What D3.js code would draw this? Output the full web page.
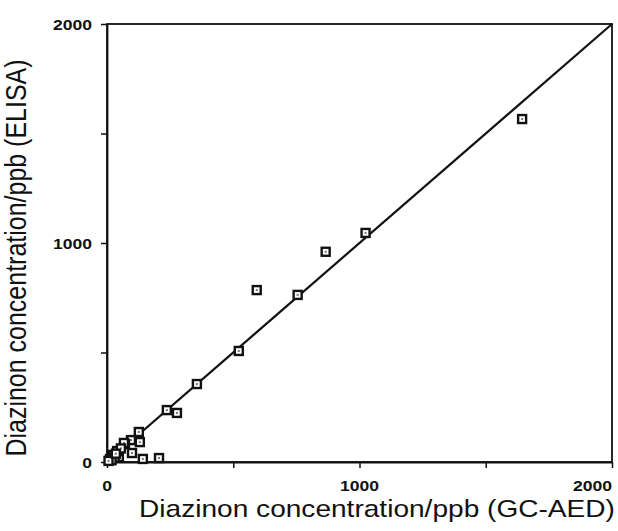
<!DOCTYPE html>
<html>
<head>
<meta charset="utf-8">
<script src="https://cdn.jsdelivr.net/npm/d3@7"></script>
<style>
  body { margin: 0; background: #fff; }
  text { font-family: "Liberation Sans", Arial, sans-serif; fill: #111; }
</style>
</head>
<body>
<svg id="grafico" width="618" height="531"></svg>
<script>
// data: GC-AED (x) vs ELISA (y), ppb
var gcaed = [1644, 1024, 866, 593, 755, 522, 356, 237, 277, 126, 130, 95, 71, 67, 99, 142, 206, 47, 24, 40, 55, 30, 12, 18, 6, 35];
var elisa = [1566, 1046, 960, 785, 763, 507, 356, 237, 224, 137, 91, 100, 82, 87, 41, 14, 18, 23, 32, 50, 62, 20, 14, 8, 5, 38];
var tickVals = [0, 500, 1000, 1500, 2000];
var tickLabels = [0, 1000, 2000];
var xTitle = "Diazinon concentration/ppb (GC-AED)";
var yTitle = "Diazinon concentration/ppb (ELISA)";

var svg = d3.select("svg#grafico");
var plotL = 107, plotR = 612, plotT = 24, plotB = 462;
var sx = 1.17; // the scan is stretched sideways

var x = d3.scaleLinear().domain([0, 2000]).range([plotL, plotR]);
var y = d3.scaleLinear().domain([0, 2000]).range([plotB, plotT]);

// frame
svg.append("rect")
    .attr("x", plotL).attr("y", plotT)
    .attr("width", plotR - plotL).attr("height", plotB - plotT)
    .attr("fill", "none").attr("stroke", "#111").attr("stroke-width", 1.8);

// axes (ticks only, labels drawn below)
var xAxis = svg.append("g")
    .attr("transform", "translate(0," + plotB + ")")
    .call(d3.axisBottom(x).tickValues(tickVals).tickFormat("").tickSize(6).tickSizeOuter(0));
var yAxis = svg.append("g")
    .attr("transform", "translate(" + plotL + ",0)")
    .call(d3.axisLeft(y).tickValues(tickVals).tickFormat("").tickSize(6).tickSizeOuter(0));
[xAxis, yAxis].forEach(function(a) {
  a.select(".domain").attr("stroke", "#111").attr("stroke-width", 1.8);
  a.selectAll(".tick line").attr("stroke", "#111").attr("stroke-width", 1.5);
});

// tick labels
svg.selectAll(".xlab")
  .data(tickLabels)
  .enter().append("text")
    .attr("class", "xlab")
    .attr("transform", function(d) { return "translate(" + x(d) + ",491) scale(" + sx + ",1)"; })
    .attr("text-anchor", function(d) { return d == 2000 ? "end" : "middle"; })
    .style("font-size", "15px")
    .style("font-weight", "bold")
    .text(function(d) { return d; });

svg.selectAll(".ylab")
  .data(tickLabels)
  .enter().append("text")
    .attr("class", "ylab")
    .attr("transform", function(d) { return "translate(92," + (y(d) + 5.5) + ") scale(" + sx + ",1)"; })
    .attr("text-anchor", "end")
    .style("font-size", "15px")
    .style("font-weight", "bold")
    .text(function(d) { return d; });

// axis titles
svg.append("text")
    .attr("transform", "translate(" + 377 + ",517) scale(" + sx + ",1)")
    .attr("text-anchor", "middle")
    .style("font-size", "24px")
    .text(xTitle);

svg.append("text")
    .attr("transform", "translate(26,258) scale(" + sx + ",1) rotate(-90)")
    .attr("text-anchor", "middle")
    .style("font-size", "25px")
    .text(yTitle);

// 1:1 line
svg.append("line")
    .attr("x1", x(0)).attr("y1", y(0))
    .attr("x2", x(2000)).attr("y2", y(2000))
    .attr("stroke", "#111").attr("stroke-width", 2.2);

// points
var pts = svg.selectAll(".pt")
  .data(d3.range(gcaed.length))
  .enter().append("g")
    .attr("class", "pt")
    .attr("transform", function(i) { return "translate(" + x(gcaed[i]) + "," + y(elisa[i]) + ")"; });
pts.append("rect")
    .attr("x", -4).attr("y", -4).attr("width", 8).attr("height", 8)
    .attr("fill", "#fff").attr("stroke", "#111").attr("stroke-width", 2.4);
pts.append("rect")
    .attr("x", -1).attr("y", -1).attr("width", 2).attr("height", 2)
    .attr("fill", "#777");
</script>
</body>
</html>
